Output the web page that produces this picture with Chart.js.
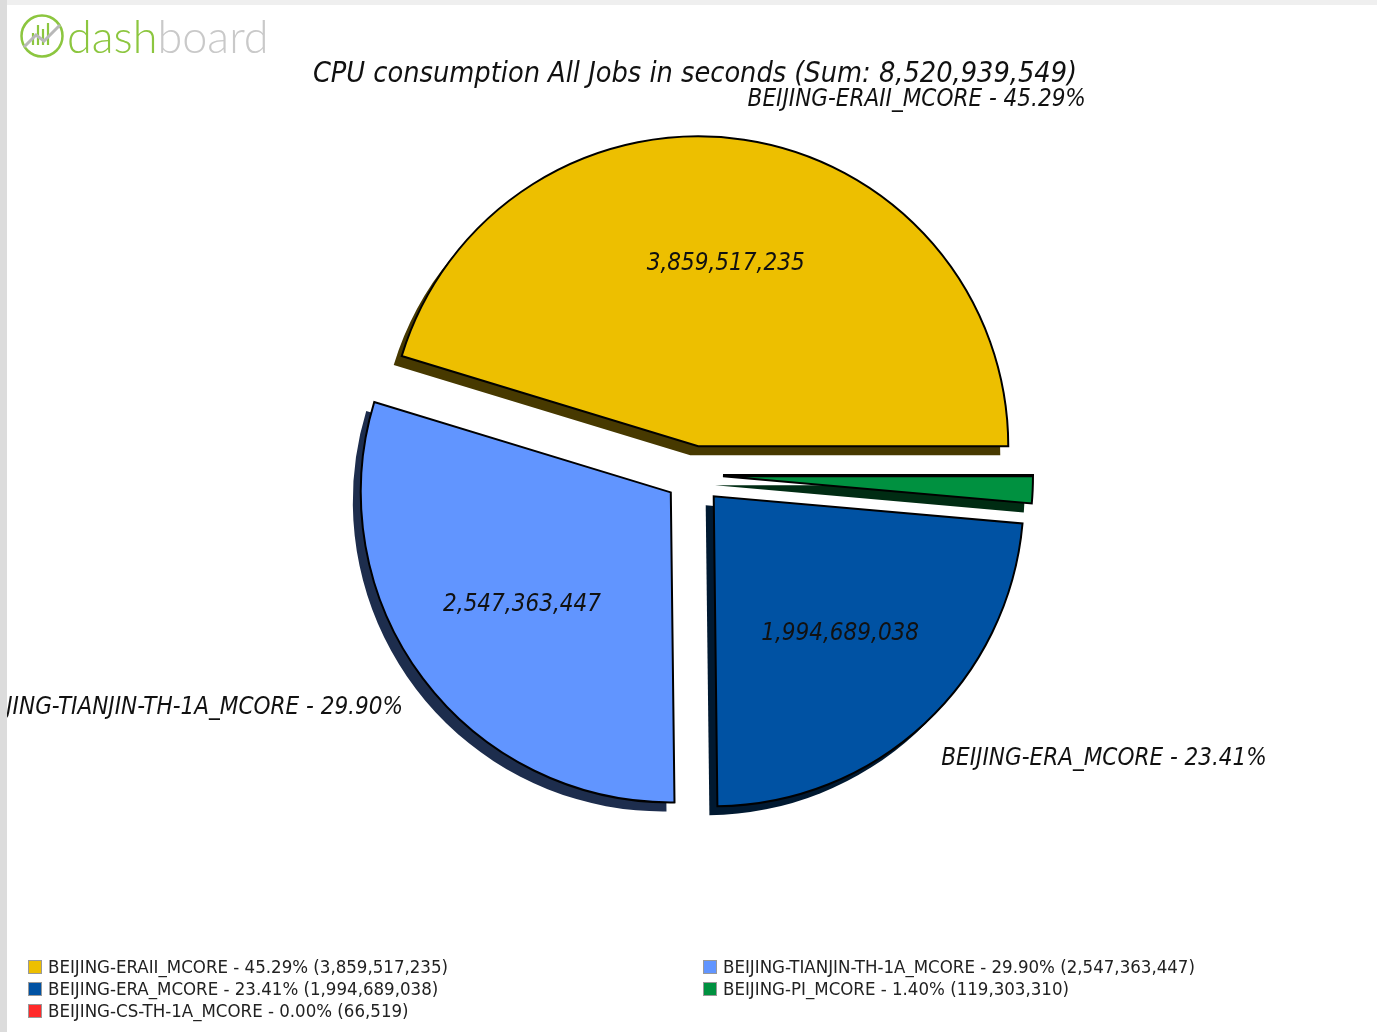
<!DOCTYPE html>
<html>
<head>
<meta charset="utf-8">
<script src="https://cdn.jsdelivr.net/npm/chart.js@4.4.1/dist/chart.umd.min.js"></script>
<style>
  body { margin: 0; width: 1377px; height: 1032px; overflow: hidden; background: #dcdcdc; font-family: "DejaVu Sans Condensed", "DejaVu Sans", sans-serif; }
  #topbar { position: absolute; left: 7px; top: 0; width: 1370px; height: 5px; background: #efefef; }
  #frame { position: absolute; left: 7px; top: 5px; width: 1370px; height: 1027px; background: #fff; overflow: hidden; }
  #chartBox { position: absolute; left: 0; top: 0; width: 1370px; height: 1027px; }
  #logo { position: absolute; left: 12px; top: 8px; height: 46px; display: flex; align-items: center; }
  #logo .txt { font-family: Lato, sans-serif; font-weight: 300; font-size: 45px; letter-spacing: 0; margin-left: 2px; line-height: 46px; }
  #title { position: absolute; left: 0; width: 1376px; top: 50px; line-height: 34px; text-align: center; font-style: italic; font-size: 28.6px; color: #111; }
  #legend { position: absolute; left: 21px; top: 951px; width: 1349px; }
  .item { position: absolute; font-size: 18.5px; color: #222; white-space: nowrap; line-height: 22px; }
  .item i { display: inline-block; width: 12px; height: 12px; border: 1px solid #999; vertical-align: -1px; margin-right: 6px; }
</style>
</head>
<body>
<div id="topbar"></div>
<div id="frame">
  <div id="chartBox"><canvas id="pie"></canvas></div>
  <div id="logo">
    <svg width="46" height="46" viewBox="0 0 46 46">
      <circle cx="23" cy="23" r="20.5" fill="none" stroke="#8cc63f" stroke-width="2.5"/>
      <g stroke="#8cc63f" stroke-width="2.2">
        <line x1="14" y1="32" x2="14" y2="20"/>
        <line x1="19" y1="32" x2="19" y2="12"/>
        <line x1="24" y1="32" x2="24" y2="16"/>
        <line x1="29" y1="32" x2="29" y2="10"/>
      </g>
      <polyline points="5,34 17,22 25,28 41,12" fill="none" stroke="#b8b8b8" stroke-width="3"/>
    </svg>
    <span class="txt"><span style="color:#8cc63f">dash</span><span style="color:#c9c9c9">board</span></span>
  </div>
  <div id="title"></div>
  <div id="legend"></div>
</div>
<script>
// slices, in legend order
const categories = ['BEIJING-ERAII_MCORE', 'BEIJING-TIANJIN-TH-1A_MCORE', 'BEIJING-ERA_MCORE', 'BEIJING-PI_MCORE', 'BEIJING-CS-TH-1A_MCORE'];
const seconds = [3859517235, 2547363447, 1994689038, 119303310, 66519];
const colors = ['#edbf00', '#6195ff', '#0052a3', '#009140', '#ff2a2a'];

const EXPLODE = 29;      // px each slice is pulled out
const SHADOW_DX = -8, SHADOW_DY = 9;
const LABEL_FONT = 'italic 24px "DejaVu Sans Condensed", "DejaVu Sans", sans-serif';

const total = seconds.reduce((a, b) => a + b, 0);
const fmt = n => n.toLocaleString('en-US');
const pct = n => (n / total * 100).toFixed(2) + '%';

function darken(hex, f) {
  const v = parseInt(hex.slice(1), 16);
  const r = Math.round(((v >> 16) & 255) * f), g = Math.round(((v >> 8) & 255) * f), b = Math.round((v & 255) * f);
  return `rgb(${r},${g},${b})`;
}

document.getElementById('title').innerText = `CPU consumption All Jobs in seconds (Sum: ${fmt(total)})`;

// legend, two columns
const legend = document.getElementById('legend');
categories.forEach((c, i) => {
  const d = document.createElement('div');
  d.className = 'item';
  d.style.left = (i % 2 ? 675 : 0) + 'px';
  d.style.top = (Math.floor(i / 2) * 22) + 'px';
  d.innerHTML = `<i style="background:${colors[i]}"></i>${c} - ${pct(seconds[i])} (${fmt(seconds[i])})`;
  legend.appendChild(d);
});

// pie is drawn clockwise from 3 o'clock, so feed it reversed
const order = categories.map((_, i) => i).reverse();

const explodePlugin = {
  id: 'explode',
  beforeDatasetDraw(chart, args) {
    const ctx = chart.ctx;
    const arcs = args.meta.data;
    const shift = arc => {
      const mid = (arc.startAngle + arc.endAngle) / 2;
      return [Math.cos(mid) * EXPLODE, Math.sin(mid) * EXPLODE];
    };
    // shadows first
    arcs.forEach((arc, j) => {
      const [ox, oy] = shift(arc);
      ctx.save();
      ctx.translate(ox + SHADOW_DX, oy + SHADOW_DY);
      ctx.beginPath();
      ctx.moveTo(arc.x, arc.y);
      ctx.arc(arc.x, arc.y, arc.outerRadius, arc.startAngle, arc.endAngle);
      ctx.closePath();
      ctx.fillStyle = darken(colors[order[j]], 0.3);
      ctx.fill();
      ctx.restore();
    });
    arcs.forEach(arc => {
      const [ox, oy] = shift(arc);
      ctx.save();
      ctx.translate(ox, oy);
      arc.draw(ctx);
      ctx.restore();
    });
    return false;
  },
  afterDatasetsDraw(chart) {
    const ctx = chart.ctx;
    const arcs = chart.getDatasetMeta(0).data;
    ctx.save();
    ctx.font = LABEL_FONT;
    ctx.fillStyle = '#111';
    ctx.textBaseline = 'middle';
    arcs.forEach((arc, j) => {
      const k = order[j];
      if (seconds[k] / total < 0.05) return;
      const mid = (arc.startAngle + arc.endAngle) / 2;
      const cx = Math.cos(mid), cy = Math.sin(mid);
      const ax = arc.x + cx * EXPLODE, ay = arc.y + cy * EXPLODE;
      const R = arc.outerRadius;
      ctx.textAlign = 'center';
      ctx.fillText(fmt(seconds[k]), ax + cx * R * 0.6, ay + cy * R * 0.6 + 1);
      ctx.textAlign = cx > 0 ? 'left' : 'right';
      ctx.fillText(`${categories[k]} - ${pct(seconds[k])}`, ax + cx * R * 1.08, ay + cy * R * 1.14 + 3);
    });
    ctx.restore();
  }
};

new Chart(document.getElementById('pie'), {
  type: 'pie',
  data: {
    labels: order.map(i => categories[i]),
    datasets: [{
      data: order.map(i => seconds[i]),
      backgroundColor: order.map(i => colors[i]),
      borderColor: '#000',
      borderWidth: 2,
      borderJoinStyle: 'miter'
    }]
  },
  options: {
    responsive: true,
    maintainAspectRatio: false,
    animation: false,
    rotation: 90,
    radius: 310,
    layout: { padding: { left: 4, right: 0, top: 0, bottom: 87 } },
    plugins: { legend: { display: false }, title: { display: false }, tooltip: { enabled: false } },
    events: []
  },
  plugins: [explodePlugin]
});
</script>
</body>
</html>
